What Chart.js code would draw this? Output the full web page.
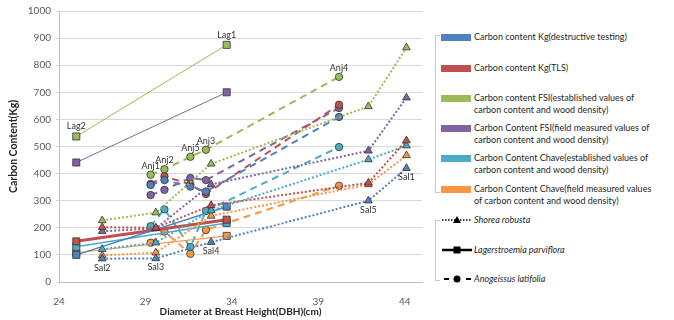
<!DOCTYPE html>
<html>
<head>
<meta charset="utf-8">
<script src="https://cdn.jsdelivr.net/npm/chart.js@4.4.1/dist/chart.umd.min.js"></script>
<style>
  body { margin: 0; background: #fff; }
  #wrap { position: relative; width: 674px; height: 320px; overflow: hidden; font-family: Lato, "Open Sans", sans-serif; }
  #chart { position: absolute; left: 0; top: 0; }
  .bracket { position: absolute; left: 435px; width: 4px; border-left: 1px solid #c8c8c8; border-top: 1px solid #c8c8c8; border-bottom: 1px solid #c8c8c8; }
  .item { position: absolute; left: 441px; font-size: 9px; line-height: 12.3px; color: #262626; white-space: nowrap; }
  .item .sw { position: absolute; left: 0; top: 3px; width: 30px; height: 7px; }
  .item .txt { position: absolute; left: 33px; top: 0; }
  .item svg { position: absolute; left: 0; top: 0; }
  .item i { font-style: italic; }
</style>
</head>
<body>
<div id="wrap">
  <canvas id="chart" width="430" height="320"></canvas>
  <div id="legend"></div>
</div>
<script>
// Tick labels
const yTicks = [0, 100, 200, 300, 400, 500, 600, 700, 800, 900, 1000];
const xTicks = [24, 29, 34, 39, 44];

// Shorea robusta (Sal trees)
const salLabels = ['Sal2', 'Sal3', 'Sal4', 'Sal5', 'Sal1'];
const salDbh = [26.5, 29.6, 32.8, 41.9, 44.1];
const salDestructive = [86, 87, 147, 300, 420];
const salTls = [202, 200, 283, 366, 522];
const salFsiEst = [227, 256, 436, 648, 865];
const salFsiField = [187, 198, 360, 484, 680];
const salChaveEst = [121, 145, 264, 452, 503];
const salChaveField = [98, 108, 244, 360, 467];

// Lagerstroemia parviflora (Lag trees)
const lagLabels = ['Lag2', 'Lag1'];
const lagDbh = [25.0, 33.7];
const lagDestructive = [100, 278];
const lagTls = [150, 230];
const lagFsiEst = [537, 875];
const lagFsiField = [441, 700];
const lagChaveEst = [130, 218];
const lagChaveField = [108, 170];

// Anogeissus latifolia (Anj trees)
const anjLabels = ['Anj1', 'Anj2', 'Anj5', 'Anj3', 'Anj4'];
const anjDbh = [29.3, 30.1, 31.6, 32.5, 40.2];
const anjDestructive = [358, 376, 352, 334, 609];
const anjTls = [362, 390, 360, 325, 654];
const anjFsiEst = [396, 416, 462, 488, 757];
const anjFsiField = [321, 340, 384, 376, 642];
const anjChaveEst = [206, 268, 129, 262, 498];
const anjChaveField = [145, 186, 104, 192, 355];

const methodNames = [
  'Carbon content Kg(destructive testing)',
  'Carbon content Kg(TLS)',
  'Carbon content FSI(established values of<br>carbon content and wood density)',
  'Carbon Content FSI(field measured values of<br>carbon content and wood density)',
  'Carbon Content Chave(established values of<br>carbon content and wood density)',
  'Carbon Content Chave(field measured values<br>of carbon content and wood density)'
];
const speciesNames = ['Shorea robusta', 'Lagerstroemia parviflora', 'Anogeissus latifolia'];

// styles
const colors = ['#4F81BD', '#C0504D', '#9BBB59', '#8064A2', '#4BACC6', '#F79646'];
const lagWidths = [1.5, 3, 1, 1, 1.5, 1.2];

function xy(xs, ys) {
  return ys.map((v, i) => ({ x: xs[i], y: v }));
}

const salSeries = [salDestructive, salTls, salFsiEst, salFsiField, salChaveEst, salChaveField];
const lagSeries = [lagDestructive, lagTls, lagFsiEst, lagFsiField, lagChaveEst, lagChaveField];
const anjSeries = [anjDestructive, anjTls, anjFsiEst, anjFsiField, anjChaveEst, anjChaveField];

const datasets = [];
salSeries.forEach((vals, m) => {
  datasets.push({
    data: xy(salDbh, vals),
    borderColor: colors[m],
    backgroundColor: colors[m],
    borderWidth: 2,
    borderDash: [2, 2],
    pointStyle: 'triangle',
    pointRadius: 4.5,
    pointBorderColor: '#333',
    pointBorderWidth: 0.8,
    pointBackgroundColor: colors[m],
    labels: m === 0 ? salLabels : null,
    labelOffset: 9
  });
});
lagSeries.forEach((vals, m) => {
  datasets.push({
    data: xy(lagDbh, vals),
    borderColor: colors[m],
    backgroundColor: colors[m],
    borderWidth: lagWidths[m],
    pointStyle: 'rect',
    pointRadius: 5,
    pointBorderColor: '#333',
    pointBorderWidth: 0.8,
    pointBackgroundColor: colors[m],
    labels: m === 2 ? lagLabels : null,
    labelOffset: -10
  });
});
anjSeries.forEach((vals, m) => {
  datasets.push({
    data: xy(anjDbh, vals),
    borderColor: colors[m],
    backgroundColor: colors[m],
    borderWidth: 2,
    borderDash: [7, 5],
    pointStyle: 'circle',
    pointRadius: 3.7,
    pointBorderColor: '#333',
    pointBorderWidth: 0.8,
    pointBackgroundColor: colors[m],
    labels: m === 2 ? anjLabels : null,
    labelOffset: -9
  });
});

// Data labels (Sal1, Lag2, Anj1 ...) next to their points
const pointLabels = {
  id: 'pointLabels',
  afterDatasetsDraw(chart) {
    const ctx = chart.ctx;
    ctx.save();
    ctx.font = '9px Lato, sans-serif';
    ctx.fillStyle = '#333';
    ctx.textAlign = 'center';
    ctx.textBaseline = 'middle';
    chart.data.datasets.forEach((ds, i) => {
      if (!ds.labels) return;
      chart.getDatasetMeta(i).data.forEach((pt, j) => {
        ctx.fillText(ds.labels[j], pt.x, pt.y + ds.labelOffset);
      });
    });
    ctx.restore();
  }
};

new Chart(document.getElementById('chart'), {
  type: 'scatter',
  data: { datasets: datasets },
  plugins: [pointLabels],
  options: {
    responsive: false,
    animation: false,
    showLine: true,
    layout: { padding: { top: 11, right: 8, left: 0, bottom: 0 } },
    plugins: { legend: { display: false }, tooltip: { enabled: false } },
    elements: { line: { tension: 0, fill: false } },
    scales: {
      x: {
        type: 'linear',
        min: 24,
        max: 45,
        afterBuildTicks: scale => { scale.ticks = xTicks.map(v => ({ value: v })); },
        afterFit: scale => { scale.height = 38; },
        grid: { display: false },
        border: { display: true, color: '#bfbfbf' },
        ticks: { color: '#595959', font: { family: 'Lato', size: 10 }, padding: 6, maxRotation: 0, callback: v => String(v) },
        title: {
          display: true,
          text: 'Diameter at Breast Height(DBH)(cm)',
          color: '#262626',
          font: { family: 'Lato', size: 10, weight: 'bold' },
          padding: { top: 0, bottom: 2 }
        }
      },
      y: {
        min: 0,
        max: 1000,
        afterBuildTicks: scale => { scale.ticks = yTicks.map(v => ({ value: v })); },
        afterFit: scale => { scale.width = 59; },
        grid: { color: '#d9d9d9', tickLength: 3 },
        border: { display: true, color: '#bfbfbf' },
        ticks: { color: '#595959', font: { family: 'Lato', size: 10 }, padding: 5, callback: v => String(v) },
        title: {
          display: true,
          text: 'Carbon Content(Kg)',
          color: '#262626',
          font: { family: 'Lato', size: 10.5, weight: 'bold' },
          padding: { top: 7, bottom: 0 }
        }
      }
    }
  }
});

// Legend
const legend = document.getElementById('legend');
const methodTops = [31, 61.5, 92, 122, 151.5, 183];
let html = '<div class="bracket" style="top:35px;height:156px"></div>' +
           '<div class="bracket" style="top:220px;height:59px"></div>';
methodNames.forEach((name, m) => {
  html += '<div class="item" style="top:' + methodTops[m] + 'px">' +
          '<div class="sw" style="background:' + colors[m] + '"></div>' +
          '<div class="txt">' + name + '</div></div>';
});
const speciesTops = [214, 244, 273];
const samples = [
  '<svg width="32" height="12"><line x1="1" y1="6" x2="31" y2="6" stroke="#000" stroke-width="1.5" stroke-dasharray="1.5,1.5"/><polygon points="16,2 20,9 12,9" fill="#000"/></svg>',
  '<svg width="32" height="12"><line x1="1" y1="6" x2="31" y2="6" stroke="#000" stroke-width="2.5"/><rect x="12.5" y="2.5" width="7" height="7" fill="#000"/></svg>',
  '<svg width="32" height="12"><line x1="1" y1="6" x2="31" y2="6" stroke="#000" stroke-width="2" stroke-dasharray="5,6" stroke-dashoffset="-2"/><circle cx="16" cy="6" r="3.5" fill="#000"/></svg>'
];
speciesNames.forEach((name, s) => {
  html += '<div class="item" style="top:' + speciesTops[s] + 'px">' + samples[s] +
          '<div class="txt"><i>' + name + '</i></div></div>';
});
legend.innerHTML = html;
</script>
</body>
</html>
